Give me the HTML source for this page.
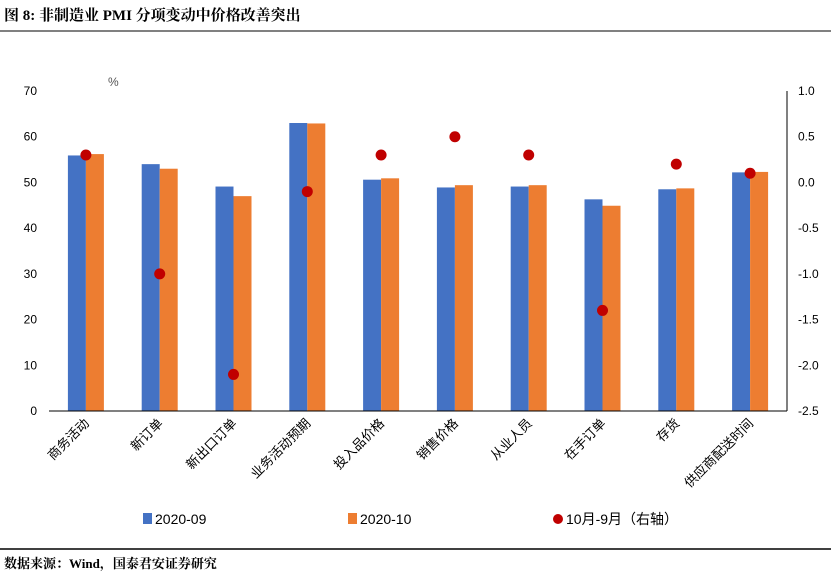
<!DOCTYPE html>
<html><head><meta charset="utf-8"><style>
body{margin:0;background:#fff;}
svg text{font-family:"Liberation Sans","Noto Sans CJK SC",sans-serif;}
.serif{font-family:"Liberation Serif","Noto Serif CJK SC",serif;}
</style></head><body>
<svg id="chart" width="831" height="579" xmlns="http://www.w3.org/2000/svg">
<text class="serif" x="4" y="20" font-size="15" font-weight="bold" fill="#000" style="font-family:'Liberation Serif','Noto Serif CJK SC',serif">图 8:  非制造业 PMI 分项变动中价格改善突出</text>
<line x1="0" y1="31" x2="831" y2="31" stroke="#000" stroke-width="1"/>
<line x1="0" y1="549" x2="831" y2="549" stroke="#000" stroke-width="1.5"/>
<text x="4" y="568" font-size="13" font-weight="bold" style="font-family:'Liberation Serif','Noto Serif CJK SC',serif">数据来源：Wind，国泰君安证券研究</text>
<text x="108" y="86" font-size="12" fill="#555">%</text>
<g id="plot"></g>
<g>
<rect x="143" y="513" width="9" height="11" fill="#4472C4"/>
<text x="155" y="524" font-size="14">2020-09</text>
<rect x="348" y="513" width="9" height="11" fill="#ED7D31"/>
<text x="360" y="524" font-size="14">2020-10</text>
<circle cx="558" cy="519" r="5" fill="#C00000"/>
<text x="566" y="524" font-size="14">10月-9月（右轴）</text>
</g>
</svg>
<script>
const categories=["商务活动","新订单","新出口订单","业务活动预期","投入品价格","销售价格","从业人员","在手订单","存货","供应商配送时间"];
const sep=[55.9,54.0,49.1,63.0,50.6,48.9,49.1,46.3,48.5,52.2];
const oct=[56.2,53.0,47.0,62.9,50.9,49.4,49.4,44.9,48.7,52.3];
const diff=[0.3,-1.0,-2.1,-0.1,0.3,0.5,0.3,-1.4,0.2,0.1];
const leftTicks=[0,10,20,30,40,50,60,70];
const rightTicks=[1.0,0.5,0.0,-0.5,-1.0,-1.5,-2.0,-2.5];
const NS="http://www.w3.org/2000/svg";
const g=document.getElementById('plot');
const X0=49,X1=787,Y0=411,Y1=91;
const yL=v=>Y0-(v/70)*(Y0-Y1);
const yR=v=>Y0-((v+2.5)/3.5)*(Y0-Y1);
const step=(X1-X0)/categories.length;
const xc=i=>X0+step*(i+0.5);
function mk(t,a){const e=document.createElementNS(NS,t);for(const k in a)e.setAttribute(k,a[k]);g.appendChild(e);return e;}
leftTicks.forEach(v=>{const t=mk('text',{x:37,y:yL(v)+4,'font-size':12,'text-anchor':'end'});t.textContent=v;

});
rightTicks.forEach(v=>{const t=mk('text',{x:798,y:yR(v)+4,'font-size':12});t.textContent=v.toFixed(1);

});
const ra=mk('line',{x1:X1,y1:Y1,x2:X1,y2:Y0,stroke:'#000','stroke-width':1});


categories.forEach((c,i)=>{
 const bw=18,cx=xc(i);
 const b1=mk('rect',{x:cx-bw,y:yL(sep[i]),width:bw,height:Y0-yL(sep[i]),fill:'#4472C4'});
 
 
 const b2=mk('rect',{x:cx,y:yL(oct[i]),width:bw,height:Y0-yL(oct[i]),fill:'#ED7D31'});
 
 
 const t=mk('text',{x:cx+4,y:424,'font-size':13,'text-anchor':'end',transform:`rotate(-45 ${cx+4} 424)`});
 t.textContent=c;
 
 
});
const ax=mk('line',{x1:X0,y1:Y0,x2:X1,y2:Y0,stroke:'#000','stroke-width':1});


diff.forEach((v,i)=>{const p=mk('circle',{cx:xc(i),cy:yR(v),r:5.5,fill:'#C00000'});

});
</script>
</body></html>
